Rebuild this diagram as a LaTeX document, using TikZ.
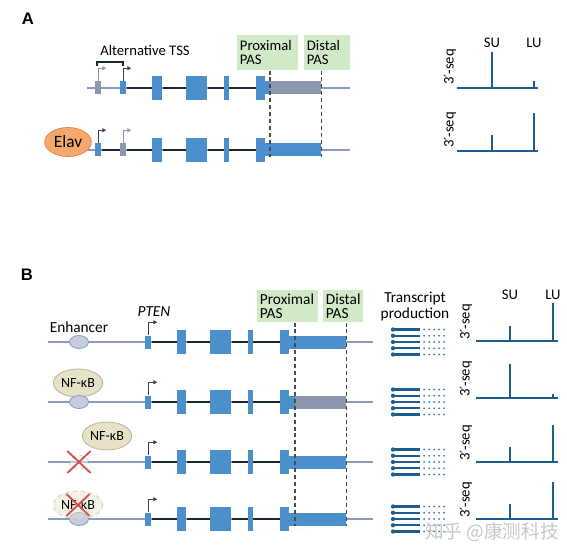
\documentclass[tikz,border=0pt]{standalone}
\usepackage{fontspec}
\setmainfont{Carlito}
\newfontfamily\headfont{Liberation Sans}
\newfontfamily\primefont{DejaVu Sans}
\newfontfamily\cjkfont{Noto Sans CJK SC}
\usepackage{tikz}
\usetikzlibrary{shapes.geometric, shapes.misc, arrows.meta, positioning, calc}
\usepackage{xcolor}
\definecolor{ExonBlue}{HTML}{4B8FCC}
\definecolor{ExonGrey}{HTML}{8C96AC}
\definecolor{FlankGrey}{HTML}{8C9BB9}
\definecolor{IntronDark}{HTML}{1E2633}
\definecolor{TssDark}{HTML}{3A4454}
\definecolor{TssGrey}{HTML}{8C96AC}
\definecolor{PasGreen}{HTML}{D1E9C7}
\definecolor{ElavOrange}{HTML}{F5A86E}
\definecolor{ElavEdge}{HTML}{E4884A}
\definecolor{NfkbBeige}{HTML}{E6E2C8}
\definecolor{NfkbEdge}{HTML}{B8B49A}
\definecolor{EnhLilac}{HTML}{C5CCE0}
\definecolor{EnhEdge}{HTML}{8E99B9}
\definecolor{DashGrey}{HTML}{4A4A4A}
\definecolor{SeqBlue}{HTML}{1E5C8C}
\definecolor{CrossRed}{HTML}{D5504F}
\newcommand{\threeprime}{3{\primefont\fontsize{10}{10}\selectfont ′}-seq}
\tikzset{
    % gene parts
    exon/.style={
        rectangle,
        fill=ExonBlue,
        inner sep=0pt,
        anchor=west,
        minimum height=18pt
    },
    smallexon/.style={
        exon,
        minimum height=9.75pt
    },
    flank/.style={
        line width=1.4pt,
        draw=FlankGrey
    },
    intron/.style={
        line width=1.5pt,
        draw=IntronDark
    },
    tss/.style={
        -{Triangle[length=3pt, width=3pt]},
        line width=0.9pt,
        draw=TssDark
    },
    bracket/.style={
        line width=0.9pt,
        draw=IntronDark
    },
    % labels and boxes
    panel/.style={
        font=\headfont\bfseries\fontsize{12.5}{12.5}\selectfont
    },
    lbl/.style={
        inner sep=0pt,
        font=\fontsize{11}{11}\selectfont
    },
    pasbox/.style={
        rectangle,
        fill=PasGreen,
        anchor=north west,
        align=left,
        inner xsep=2pt,
        inner ysep=0pt,
        font=\fontsize{11}{10.5}\selectfont
    },
    pasline/.style={
        line width=0.9pt,
        draw=DashGrey,
        dash pattern=on 3pt off 2.2pt
    },
    % binding factors
    elav/.style={
        ellipse,
        draw=ElavEdge,
        fill=ElavOrange,
        line width=0.6pt,
        minimum width=35pt,
        minimum height=21.75pt,
        inner sep=0pt,
        font=\fontsize{13}{13}\selectfont
    },
    nfkb/.style={
        ellipse,
        draw=NfkbEdge,
        fill=NfkbBeige,
        line width=0.6pt,
        minimum width=37pt,
        minimum height=21pt,
        inner sep=0pt,
        font=\fontsize{10.5}{10.5}\selectfont
    },
    enh/.style={
        ellipse,
        draw=EnhEdge,
        fill=EnhLilac,
        line width=0.6pt,
        minimum width=14.25pt,
        minimum height=9.75pt,
        inner sep=0pt
    },
    gone/.style={
        dashed,
        draw opacity=0.6,
        fill opacity=0.45,
        text opacity=1
    },
    crossed/.style={
        cross out,
        draw=CrossRed,
        line width=1.4pt,
        minimum width=16pt,
        minimum height=15pt,
        inner sep=0pt
    },
    % read-out
    seq/.style={
        line width=1.5pt,
        draw=SeqBlue
    },
    seqaxis/.style={
        rotate=90,
        inner sep=0pt,
        font=\fontsize{11}{11}\selectfont
    },
    tline/.style={
        line width=1.7pt,
        draw=SeqBlue
    }
}

\begin{document}
\begin{tikzpicture}[x=0.75pt, y=-0.75pt]
    \useasboundingbox (0,0) rectangle (567,556);

    % ---------------- A ----------------
    \node[panel] (lblA) at (28,19) {A};
    \node[pasbox, minimum width=45.75pt, text width=41.75pt, minimum height=26.25pt] (pxA) at (237,35) {Proximal\\PAS};
    \node[pasbox, minimum width=34.5pt, text width=30.5pt, minimum height=26.25pt] (dsA) at (304,35) {Distal\\PAS};
    \node[lbl] (alt) at (145,50) {Alternative TSS};
    \coordinate (brL) at (97,66);
    \coordinate (brR) at (123,66);
    \draw[bracket] (brL) -- ++(0,-4) -| (brR);

    \foreach \r/\y/\ca/\cb/\ta/\tb/\cu in {1/88/ExonGrey/ExonBlue/TssGrey/TssDark/ExonGrey,
                                          2/150/ExonBlue/ExonGrey/TssDark/TssGrey/ExonBlue} {
        \draw[flank] (87,\y) -- (350,\y);
        \node[smallexon, fill=\ca, minimum width=4.5pt] (a\r-s1) at (95,\y) {};
        \node[smallexon, fill=\cb, minimum width=4.5pt] (a\r-s2) at (120,\y) {};
        \node[exon, minimum width=7.5pt] (a\r-e1) at (152,\y) {};
        \node[exon, minimum width=15.75pt] (a\r-e2) at (186,\y) {};
        \node[exon, minimum width=3.5pt] (a\r-e3) at (224,\y) {};
        \node[exon, minimum width=6.75pt] (a\r-e4) at (256,\y) {};
        \node[smallexon, minimum width=4pt] (a\r-p) at (265,\y) {};
        \node[smallexon, fill=\cu, minimum width=38.25pt] (a\r-u) at (270,\y) {};
        \draw[intron] (a\r-s2.east) -- (a\r-e1.west) (a\r-e1.east) -- (a\r-e2.west)
                      (a\r-e2.east) -- (a\r-e3.west) (a\r-e3.east) -- (a\r-e4.west);
        \draw[tss, draw=\ta] (a\r-s1.north) -- ++(0,-13) -- ++(8,0);
        \draw[tss, draw=\tb] (a\r-s2.north) -- ++(0,-13) -- ++(8,0);
    }
    \draw[intron] (a2-s1.east) -- (a2-s2.west);
    \draw[pasline] (a1-u.west |- pxA.south) -- (a1-u.west |- a2-u.south);
    \draw[pasline] (a1-u.east |- dsA.south) -- (a1-u.east |- a2-u.south);
    \node[elav] (elav) at (68,142) {Elav};

    % 3'-seq, A
    \node[lbl] (suA) at (492,43) {SU};
    \node[lbl] (luA) at (534,43) {LU};
    \foreach \p/\y/\su/\lu in {1/88/36/7, 2/151/16/38} {
        \coordinate (pa\p-0) at (457,\y);
        \coordinate (pa\p-1) at (538,\y);
        \draw[seq] (pa\p-0) -- (pa\p-1);
        \draw[seq] (suA |- pa\p-0) -- ++(0,-\su);
        \draw[seq] (luA |- pa\p-0) -- ++(0,-\lu);
        \node[seqaxis] (qa\p) at (450,\y-21) {\threeprime};
    }

    % ---------------- B ----------------
    \node[panel] (lblB) at (27,275) {B};
    \node[pasbox, minimum width=45.75pt, text width=41.75pt, minimum height=24pt, font=\fontsize{11.5}{10.5}\selectfont] (pxB) at (257,290) {Proximal\\PAS};
    \node[pasbox, minimum width=30pt, text width=26pt, minimum height=24pt, font=\fontsize{11.5}{10.5}\selectfont] (dsB) at (323,290) {Distal\\PAS};
    \node[lbl, font=\itshape\fontsize{11.5}{11.5}\selectfont] (pten) at (154,312) {PTEN};
    \node[lbl, align=center, font=\fontsize{11.5}{12}\selectfont] (tprod) at (415,306) {Transcript\\production};

    \foreach \r/\y/\cu in {1/342/ExonBlue, 2/402/ExonGrey, 3/462/ExonBlue, 4/519/ExonBlue} {
        \draw[flank] (48,\y) -- (373,\y);
        \node[smallexon, minimum width=4.5pt] (b\r-x1) at (145,\y) {};
        \node[exon, minimum width=6.75pt] (b\r-x2) at (177,\y) {};
        \node[exon, minimum width=15.75pt] (b\r-x3) at (210,\y) {};
        \node[exon, minimum width=3.25pt] (b\r-x4) at (248,\y) {};
        \node[exon, minimum width=6.75pt] (b\r-x5) at (280,\y) {};
        \node[smallexon, minimum width=4.75pt] (b\r-p) at (289,\y) {};
        \node[smallexon, fill=\cu, minimum width=38.25pt] (b\r-u) at (295,\y) {};
        \draw[intron] (b\r-x1.east) -- (b\r-x2.west) (b\r-x2.east) -- (b\r-x3.west)
                      (b\r-x3.east) -- (b\r-x4.west) (b\r-x4.east) -- (b\r-x5.west);
        \draw[tss] (b\r-x1.north) -- ++(0,-13) -- ++(9,0);
        % transcripts
        \foreach \o in {-12.5,-6.25,0,6.25,12.5} {
            \draw[tline] (393,\y+\o) -- (420,\y+\o);
            \fill[SeqBlue] (393,\y+\o) circle (1.6pt);
            \foreach \d in {424,429,...,444}
                \fill[SeqBlue!85] (\d,\y+\o) circle (0.75pt);
        }
    }
    \draw[pasline] (b1-u.west |- pxB.south) -- (b1-u.west |- b4-u.south);
    \draw[pasline] (b1-u.east |- dsB.south) -- (b1-u.east |- b4-u.south);

    % enhancer and NF-kB
    \node[enh] (enh1) at (79,342) {};
    \node[lbl, font=\fontsize{11.5}{11.5}\selectfont] (enhtxt) at (79,327) {Enhancer};
    \node[nfkb] (nf2) at (78,383) {NF-κB};
    \node[enh] (enh2) at (79,402) {};
    \node[nfkb] (nf3) at (107,436) {NF-κB};
    \node[enh, gone, fill=white] (enh3) at (79,462) {};
    \node[crossed] (x3) at (enh3) {};
    \node[enh] (enh4) at (79,519) {};
    \node[nfkb, gone] (nf4) at (78,505) {NF-κB};
    \node[crossed] (x4) at (nf4) {};

    % 3'-seq, B
    \node[lbl] (suB) at (510,295) {SU};
    \node[lbl] (luB) at (553,295) {LU};
    \foreach \p/\y/\su/\lu in {1/341/15/38, 2/398/34/4, 3/462/15/37, 4/519/15/37} {
        \coordinate (pb\p-0) at (476,\y);
        \coordinate (pb\p-1) at (558,\y);
        \draw[seq] (pb\p-0) -- (pb\p-1);
        \draw[seq] (suB |- pb\p-0) -- ++(0,-\su);
        \draw[seq] (luB |- pb\p-0) -- ++(0,-\lu);
        \node[seqaxis] (qb\p) at (466,\y-19) {\threeprime};
    }

    \node[font=\cjkfont\fontsize{14}{14}\selectfont, text=black!22] (wm) at (492,532) {知乎 @康测科技};
\end{tikzpicture}
\end{document}
